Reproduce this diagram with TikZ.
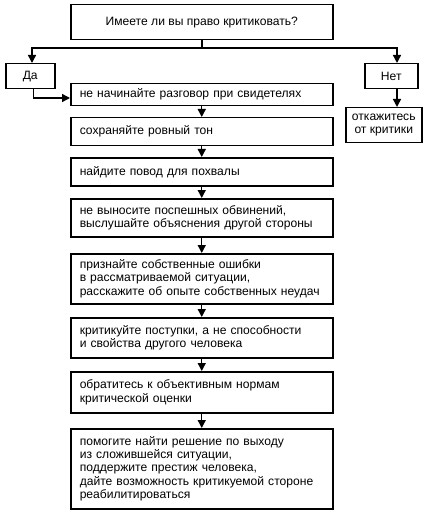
\documentclass[tikz,border=0pt]{standalone}
\usepackage{fontspec}
\setmainfont{Liberation Sans}
\usetikzlibrary{arrows.meta}
\begin{document}
\begin{tikzpicture}[x=1pt,y=-1pt,
  every node/.style={font=\fontsize{12.1}{13.4}\selectfont},
  stepbox/.style={draw, line width=1.5pt, anchor=north west, minimum width=262pt,
    text width=244pt, align=left, inner xsep=9pt, inner ysep=0pt},
  smallbox/.style={draw, line width=1.5pt, anchor=north west, align=center, inner sep=0pt},
  arr/.style={line width=1.4pt, -{Triangle[length=8pt,width=8pt]}},
  ln/.style={line width=1.4pt}]
\useasboundingbox (0,0) rectangle (427,513);
\node[smallbox, minimum width=262pt, minimum height=35pt] (top) at (70,4) {Имеете ли вы право критиковать?};
\node[smallbox, minimum width=49pt, minimum height=25pt] (da) at (5,63) {Да};
\node[smallbox, minimum width=53pt, minimum height=25pt] (net) at (364,63) {Нет};
\node[smallbox, minimum width=76pt, minimum height=35pt] (otk) at (345,107) {откажитесь\\от критики};
\node[stepbox, minimum height=22pt] (b1) at (70,83) {не начинайте разговор при свидетелях};
\node[stepbox, minimum height=28pt] (b2) at (70,117) {сохраняйте ровный тон};
\node[stepbox, minimum height=28pt] (b3) at (70,157) {найдите повод для похвалы};
\node[stepbox, minimum height=38pt] (b4) at (70,198) {не выносите поспешных обвинений,\\выслушайте объяснения другой стороны};
\node[stepbox, minimum height=50pt] (b5) at (70,253) {признайте собственные ошибки\\в рассматриваемой ситуации,\\расскажите об опыте собственных неудач};
\node[stepbox, minimum height=40pt] (b6) at (70,317) {критикуйте поступки, а не способности\\и свойства другого человека};
\node[stepbox, minimum height=41pt] (b7) at (70,371) {обратитесь к объективным нормам\\критической оценки};
\node[stepbox, minimum height=80pt] (b8) at (70,428) {помогите найти решение по выходу\\из сложившейся ситуации,\\поддержите престиж человека,\\дайте возможность критикуемой стороне\\реабилитироваться};
\coordinate (j) at (202,48);
\coordinate (lx) at (32,48);
\coordinate (rx) at (397,48);
\coordinate (dain) at (70,98);
\draw[ln] (top.south -| j) -- (j);
\draw[arr] (j) -- (lx) -- (da.north -| lx);
\draw[arr] (j) -- (rx) -- (net.north -| rx);
\draw[arr] (net.south -| rx) -- (otk.north -| rx);
\draw[arr] ([xshift=3pt]da.south) |- (dain);
\draw[arr] (b1) -- (b2);
\draw[arr] (b2) -- (b3);
\draw[arr] (b3) -- (b4);
\draw[arr] (b4) -- (b5);
\draw[arr] (b5) -- (b6);
\draw[arr] (b6) -- (b7);
\draw[arr] (b7) -- (b8);
\end{tikzpicture}
\end{document}
